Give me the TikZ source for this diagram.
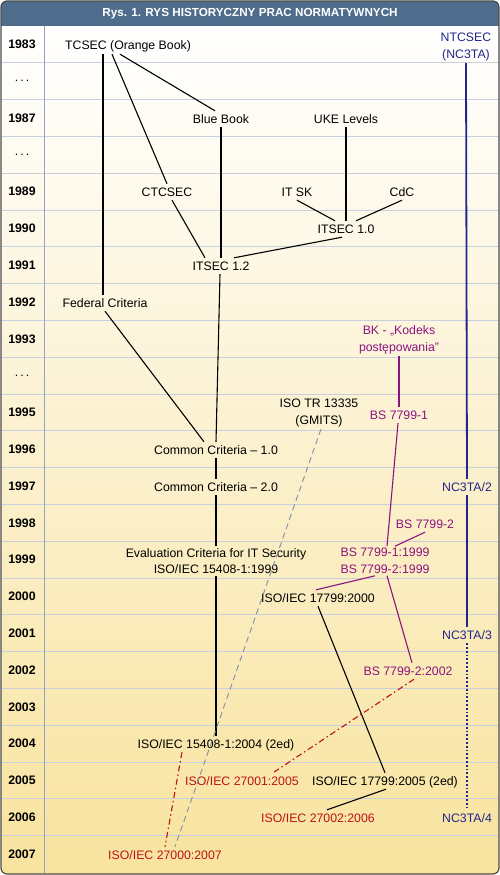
\documentclass[tikz,border=0pt]{standalone}
\usepackage{fontspec}
\setmainfont{Liberation Sans}
\usepackage{xcolor}
\usetikzlibrary{positioning}

\definecolor{hdrblue}{RGB}{78,108,140}
\definecolor{gridblue}{RGB}{200,208,222}
\definecolor{sepblue}{RGB}{150,162,190}
\definecolor{paper}{RGB}{248,227,158}
\definecolor{ncsc}{RGB}{36,36,140}
\definecolor{bspurple}{RGB}{140,20,126}
\definecolor{isored}{RGB}{188,18,22}
\definecolor{dashgray}{RGB}{128,142,168}
\newcommand{\yrgap}{\textmd{.\,.\,.}}

\begin{document}
\begin{tikzpicture}[
    x=1pt, y=-1pt,
    lbl/.style={inner sep=2pt, text height=10pt, text depth=2pt,
                font=\fontsize{12.3}{16.5}\selectfont},
    lbltwo/.style={inner sep=2pt, align=center,
                font=\fontsize{12.3}{16.5}\selectfont},
    yr/.style={font=\bfseries\fontsize{12.3}{15}\selectfont},
    rowline/.style={draw=gridblue, line width=0.9pt},
    link/.style={line width=1.1pt},
    bsl/.style={line width=1.1pt, draw=bspurple},
    isol/.style={line width=1.1pt, draw=isored,
                dash pattern=on 6pt off 3pt on 1.5pt off 3pt},
    gmits/.style={line width=0.9pt, draw=dashgray, dash pattern=on 6pt off 4pt},
    ncl/.style={line width=1.8pt, draw=ncsc}
]
\useasboundingbox (0,0) rectangle (500,875);

\begin{scope}
\clip[rounded corners=6pt] (1,1) rectangle (499,874);
\shade[top color=white, bottom color=paper] (1,26) rectangle (499,874);
\fill[hdrblue] (1,1) rectangle (499,26);
\foreach \i in {1,...,22}
    \draw[rowline] (1,{26+36.8*\i}) -- (499,{26+36.8*\i});
\end{scope}
\draw[draw=sepblue, line width=0.8pt] (44,26) -- (44,874);
\draw[draw=black!70, line width=1.2pt, rounded corners=6pt] (1,1) rectangle (499,874);

\node[text=white, font=\bfseries\fontsize{11.7}{14}\selectfont] (title) at (250,14)
    {Rys. 1. RYS HISTORYCZNY PRAC NORMATYWNYCH};

\foreach \yr [count=\i from 0] in {1983,\yrgap,1987,\yrgap,1989,1990,1991,1992,1993,\yrgap,
        1995,1996,1997,1998,1999,2000,2001,2002,2003,2004,2005,2006,2007}
    \node[yr] (y\i) at (22,{26+36.8*\i+18.4}) {\yr};

\node[lbl] (tcsec) at (128,46) {TCSEC (Orange Book)};
\node[lbltwo, text=ncsc] (ntcsec) at (466,47) {NTCSEC\\(NC3TA)};
\node[lbl] (bluebook) at (221,119) {Blue Book};
\node[lbl] (ukelevels) at (346,119) {UKE Levels};
\node[lbl] (ctcsec) at (167,192) {CTCSEC};
\node[lbl] (itsk) at (297,192) {IT SK};
\node[lbl] (cdc) at (402,192) {CdC};
\node[lbl] (itsec10) at (346,229) {ITSEC 1.0};
\node[lbl] (itsec12) at (221,266) {ITSEC 1.2};
\node[lbl] (federal) at (105,303) {Federal Criteria};
\node[lbltwo, text=bspurple] (bk) at (399,340) {BK - „Kodeks\\postępowania”};
\node[lbltwo] (isotr) at (319,413) {ISO TR 13335\\(GMITS)};
\node[lbl, text=bspurple] (bsI) at (399,415) {BS 7799-1};
\node[lbl] (cc10) at (216,450) {Common Criteria -- 1.0};
\node[lbl] (cc20) at (216,487) {Common Criteria -- 2.0};
\node[lbl, text=ncsc] (nctaII) at (467,487) {NC3TA/2};
\node[lbl, text=bspurple] (bsII) at (425,524) {BS 7799-2};
\node[lbltwo] (eval) at (216,561) {Evaluation Criteria for IT Security\\ISO/IEC 15408-1:1999};
\node[lbltwo, text=bspurple] (bs1999) at (385,561) {BS 7799-1:1999\\BS 7799-2:1999};
\node[lbl] (iso17799a) at (318,598) {ISO/IEC 17799:2000};
\node[lbl, text=ncsc] (nctaIII) at (467,635) {NC3TA/3};
\node[lbl, text=bspurple] (bs2002) at (408,671) {BS 7799-2:2002};
\node[lbl] (iso15408) at (216,744) {ISO/IEC 15408-1:2004 (2ed)};
\node[lbl, text=isored] (iso27001) at (242,781) {ISO/IEC 27001:2005};
\node[lbl] (iso17799b) at (385,781) {ISO/IEC 17799:2005 (2ed)};
\node[lbl, text=isored] (iso27002) at (318,818) {ISO/IEC 27002:2006};
\node[lbl, text=ncsc] (nctaIV) at (467,818) {NC3TA/4};
\node[lbl, text=isored] (iso27000) at (165,855) {ISO/IEC 27000:2007};

\draw[link] ([xshift=-25pt]tcsec.south) -- ([xshift=-2pt]federal.north);
\draw[link] ([xshift=-16pt]tcsec.south) -- (ctcsec.north);
\draw[link] ([xshift=-8pt]tcsec.south) -- ([xshift=-6pt]bluebook.north);
\draw[link] (bluebook.south) -- (itsec12.north);
\draw[link] (ukelevels.south) -- (itsec10.north);
\draw[link] (itsk.south) -- ([xshift=-11pt]itsec10.north);
\draw[link] (cdc.south) -- ([xshift=10pt]itsec10.north);
\draw[link] ([xshift=-4pt]itsec10.south) -- ([xshift=13pt]itsec12.north);
\draw[link] ([xshift=5pt]ctcsec.south) -- ([xshift=-16pt]itsec12.north);
\draw[link] ([xshift=-1pt]itsec12.south) -- (cc10.north);
\draw[link] (federal.south) -- ([xshift=-12pt]cc10.north);
\draw[link] (cc10.south) -- (cc20.north);
\draw[link] (cc20.south) -- (eval.north);
\draw[link] (eval.south) -- (iso15408.north);
\draw[link] (iso17799a.south) -- (iso17799b.north);
\draw[link] ([xshift=1pt]iso17799b.south) -- ([xshift=9pt]iso27002.north);

\draw[gmits] ([xshift=2pt]isotr.south) -- ([xshift=10pt]iso27000.north);

\draw[bsl] (bk.south) -- (bsI.north);
\draw[bsl] ([xshift=-1pt]bsI.south) -- ([xshift=2pt]bs1999.north);
\draw[bsl] (bsII.south) -- ([xshift=10pt]bs1999.north);
\draw[bsl] ([xshift=-10pt]bs1999.south) -- ([xshift=-2pt]iso17799a.north);
\draw[bsl] ([xshift=2pt]bs1999.south) -- ([xshift=4pt]bs2002.north);

\draw[isol] ([xshift=6pt]bs2002.south) -- ([xshift=31pt]iso27001.north);
\draw[isol] ([xshift=-34pt]iso15408.south) -- (iso27000.north);

\draw[ncl] (ntcsec.south) -- (nctaII.north);
\draw[ncl] (nctaII.south) -- (nctaIII.north);
\draw[ncl, dotted] (nctaIII.south) -- (nctaIV.north);
\end{tikzpicture}
\end{document}
